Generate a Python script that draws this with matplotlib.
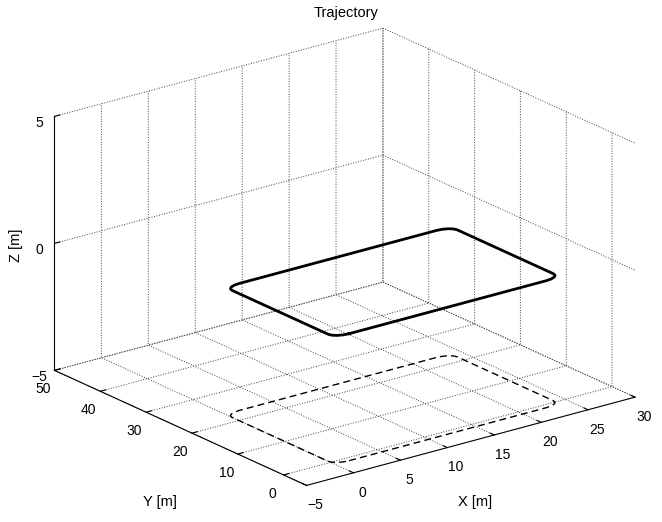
import matplotlib
matplotlib.use("Agg")
import matplotlib.pyplot as plt

plt.rcParams['font.family'] = ['Liberation Sans', 'DejaVu Sans']
plt.rcParams['font.size'] = 10
plt.rcParams['grid.linestyle'] = ':'
plt.rcParams['grid.color'] = '0.25'
plt.rcParams['grid.linewidth'] = 0.7

# flight path waypoints (rounded rectangle), metres
path_x = [1.5, 22.5, 23.07, 23.56, 23.89, 24.0,
          24.0, 23.89, 23.56, 23.07, 22.5,
          1.5, 0.93, 0.44, 0.11, 0.0,
          0.0, 0.11, 0.44, 0.93, 1.5]
path_y = [-1.0, -1.0, -0.89, -0.56, -0.07, 0.5,
          21.5, 22.07, 22.56, 22.89, 23.0,
          23.0, 22.89, 22.56, 22.07, 21.5,
          0.5, -0.07, -0.56, -0.89, -1.0]
flight_z = 0.0
ground_z = -5.0

x_ticks = [-5, 0, 5, 10, 15, 20, 25, 30]
y_ticks = [0, 10, 20, 30, 40, 50]
z_ticks = [-5, 0, 5]

W, H = 662, 522
fig = plt.figure(figsize=(W / 100, H / 100), dpi=100)
ax = fig.add_axes([0.0101, -0.0054, 1, 1], projection='3d', proj_type='ortho')
ax.view_init(elev=20.5, azim=-127.5)
ax.set_box_aspect((1, 1, 0.655), zoom=1.2)

ax.plot(path_x, path_y, [flight_z] * len(path_x), color='k', lw=2)
ax.plot(path_x, path_y, [ground_z] * len(path_x), color='k', lw=1,
        dashes=(5, 3))

ax.set_xlim(-5, 30)
ax.set_ylim(-5, 50)
ax.set_zlim(-5, 5)
ax.set_xticks(x_ticks)
ax.set_yticks(y_ticks)
ax.set_zticks(z_ticks)

pads = {'x': -1.2, 'y': -1.1, 'z': -2.8}
for name, axis in (('x', ax.xaxis), ('y', ax.yaxis), ('z', ax.zaxis)):
    axis.set_pane_color((1, 1, 1, 0))
    axis.pane.set_edgecolor('none')
    axis.line.set_linewidth(0.8)
    axis.set_tick_params(pad=pads[name], labelsize=10)
    axis._axinfo['tick']['inward_factor'] = 0.0
    axis._axinfo['tick']['outward_factor'] = 0.2
    axis._axinfo['tick']['linewidth'] = {True: 0.8, False: 0.5}

ax.grid(True)
fig.text(346 / W, 1 - 13 / H, "Trajectory", ha='center', va='center', fontsize=10.5)
fig.text(160 / W, 1 - 502 / H, "Y [m]", ha='center', va='center', fontsize=10.5)
fig.text(475 / W, 1 - 502 / H, "X [m]", ha='center', va='center', fontsize=10.5)
fig.text(16 / W, 1 - 245 / H, "Z [m]", ha='center', va='center', rotation=90,
         fontsize=10.5)

plt.savefig("out.png", dpi=100)
